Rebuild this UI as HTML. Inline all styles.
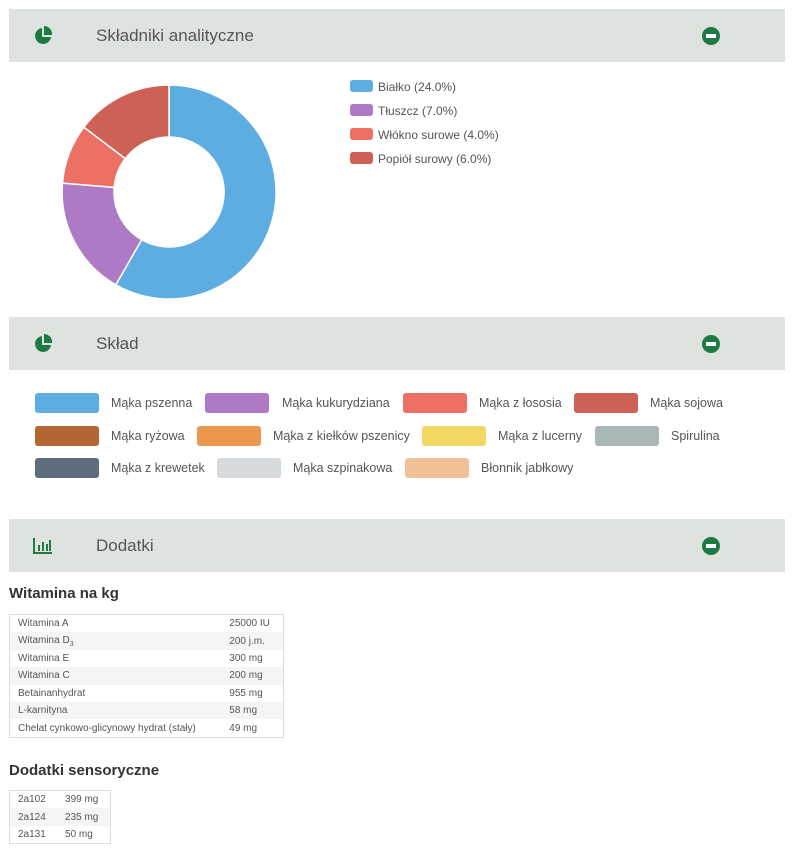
<!DOCTYPE html>
<html><head><meta charset="utf-8"><style>
body{margin:0;background:#fff;font-family:"Liberation Sans",sans-serif;color:#444;width:811px;height:857px;position:relative;overflow:hidden}
.bar{position:absolute;left:9px;width:776px;height:53px;background:#dfe3df}
.bar .t{position:absolute;left:87px;top:17px;font-size:17px;color:#555}
.bar .ic{position:absolute;left:24px;top:17px}
.bar .mn{position:absolute;left:693px;top:18px;width:18px;height:18px;border-radius:50%;background:#1e7a45}
.bar .mn:after{content:"";position:absolute;left:4px;top:7px;width:10px;height:4px;background:#fff}
.lg{position:absolute;font-size:12px;color:#555}
.lg i{position:absolute;left:0;top:0;width:23px;height:12px;border-radius:3px}
.sw{position:absolute;width:64px;height:20px;border-radius:3px}
.sl{position:absolute;font-size:12.5px;color:#555}
h3{position:absolute;margin:0;font-size:15px;font-weight:bold;color:#333;left:9px}
table{position:absolute;border-collapse:collapse;border:1px solid #ddd;font-size:10px;color:#555}
td{padding:0 8px;height:17.4px}
tr:nth-child(even){background:#f5f5f5}
</style></head><body>
<div class="bar" style="top:9px"><svg class="ic" width="20" height="20" viewBox="0 0 20 20"><path d="M9 2A8 8 0 1 0 18 11H9Z" fill="#1e7a45"/><path d="M11 0A8 8 0 0 1 19 9H11Z" fill="#1e7a45"/></svg><div class="t">Składniki analityczne</div><div class="mn"></div></div>
<svg style="position:absolute;left:0;top:0" width="300" height="320">
<g transform="translate(169,192)" stroke="#fff" stroke-width="1.5">
<path d="M0,-107A107,107 0 1 1 -53.2,92.8L-27.3,47.7A55,55 0 1 0 0,-55Z" fill="#5dade2"/>
<path d="M-53.2,92.8A107,107 0 0 1 -106.5,-8.9L-54.8,-4.6A55,55 0 0 0 -27.3,47.7Z" fill="#af7ac5"/>
<path d="M-106.5,-8.9A107,107 0 0 1 -85.1,-64.8L-43.7,-33.4A55,55 0 0 0 -54.8,-4.6Z" fill="#ec7063"/>
<path d="M-85.1,-64.8A107,107 0 0 1 0,-107L0,-55A55,55 0 0 0 -43.7,-33.4Z" fill="#cd6155"/>
</g></svg>
<div class="lg" style="left:350px;top:80px"><i style="background:#5dade2"></i><span style="margin-left:28px">Białko (24.0%)</span></div>
<div class="lg" style="left:350px;top:104px"><i style="background:#af7ac5"></i><span style="margin-left:28px">Tłuszcz (7.0%)</span></div>
<div class="lg" style="left:350px;top:128px"><i style="background:#ec7063"></i><span style="margin-left:28px">Włókno surowe (4.0%)</span></div>
<div class="lg" style="left:350px;top:152px"><i style="background:#cd6155"></i><span style="margin-left:28px">Popiół surowy (6.0%)</span></div>

<div class="bar" style="top:317px"><svg class="ic" width="20" height="20" viewBox="0 0 20 20"><path d="M9 2A8 8 0 1 0 18 11H9Z" fill="#1e7a45"/><path d="M11 0A8 8 0 0 1 19 9H11Z" fill="#1e7a45"/></svg><div class="t">Skład</div><div class="mn"></div></div>
<div class="sw" style="left:35px;top:393px;background:#5dade2"></div><div class="sl" style="left:111px;top:396px">Mąka pszenna</div>
<div class="sw" style="left:205px;top:393px;background:#af7ac5"></div><div class="sl" style="left:282px;top:396px">Mąka kukurydziana</div>
<div class="sw" style="left:403px;top:393px;background:#ec7063"></div><div class="sl" style="left:479px;top:396px">Mąka z łososia</div>
<div class="sw" style="left:574px;top:393px;background:#cd6155"></div><div class="sl" style="left:650px;top:396px">Mąka sojowa</div>
<div class="sw" style="left:35px;top:426px;background:#b46534"></div><div class="sl" style="left:111px;top:429px">Mąka ryżowa</div>
<div class="sw" style="left:197px;top:426px;background:#eb984e"></div><div class="sl" style="left:273px;top:429px">Mąka z kiełków pszenicy</div>
<div class="sw" style="left:422px;top:426px;background:#f4d762"></div><div class="sl" style="left:498px;top:429px">Mąka z lucerny</div>
<div class="sw" style="left:595px;top:426px;background:#aab7b8"></div><div class="sl" style="left:671px;top:429px">Spirulina</div>
<div class="sw" style="left:35px;top:458px;background:#5d6d7e"></div><div class="sl" style="left:111px;top:461px">Mąka z krewetek</div>
<div class="sw" style="left:217px;top:458px;background:#d7dbdd"></div><div class="sl" style="left:293px;top:461px">Mąka szpinakowa</div>
<div class="sw" style="left:405px;top:458px;background:#f0c096"></div><div class="sl" style="left:481px;top:461px">Błonnik jabłkowy</div>

<div class="bar" style="top:519px"><svg class="ic" width="20" height="20" viewBox="0 0 20 20" style="left:24px;top:17px"><path d="M1 2V17H19" stroke="#1e7a45" stroke-width="2" fill="none"/><rect x="5" y="9" width="2" height="6" fill="#1e7a45"/><rect x="9" y="6" width="2" height="9" fill="#1e7a45"/><rect x="13" y="8" width="2" height="7" fill="#1e7a45"/><rect x="16" y="4" width="2" height="11" fill="#1e7a45"/></svg><div class="t">Dodatki</div><div class="mn"></div></div>

<h3 style="top:585px">Witamina na kg</h3>
<table style="left:9px;top:614px;width:275px">
<tr><td>Witamina A</td><td>25000 IU</td></tr>
<tr><td>Witamina D<sub style="font-size:7px">3</sub></td><td>200 j.m.</td></tr>
<tr><td>Witamina E</td><td>300 mg</td></tr>
<tr><td>Witamina C</td><td>200 mg</td></tr>
<tr><td>Betainanhydrat</td><td>955 mg</td></tr>
<tr><td>L-karnityna</td><td>58 mg</td></tr>
<tr><td>Chelat cynkowo-glicynowy hydrat (stały)</td><td>49 mg</td></tr>
</table>
<h3 style="top:762px">Dodatki sensoryczne</h3>
<table style="left:9px;top:790px;width:102px">
<tr><td>2a102</td><td>399 mg</td></tr>
<tr><td>2a124</td><td>235 mg</td></tr>
<tr><td>2a131</td><td>50 mg</td></tr>
</table>
</body></html>
